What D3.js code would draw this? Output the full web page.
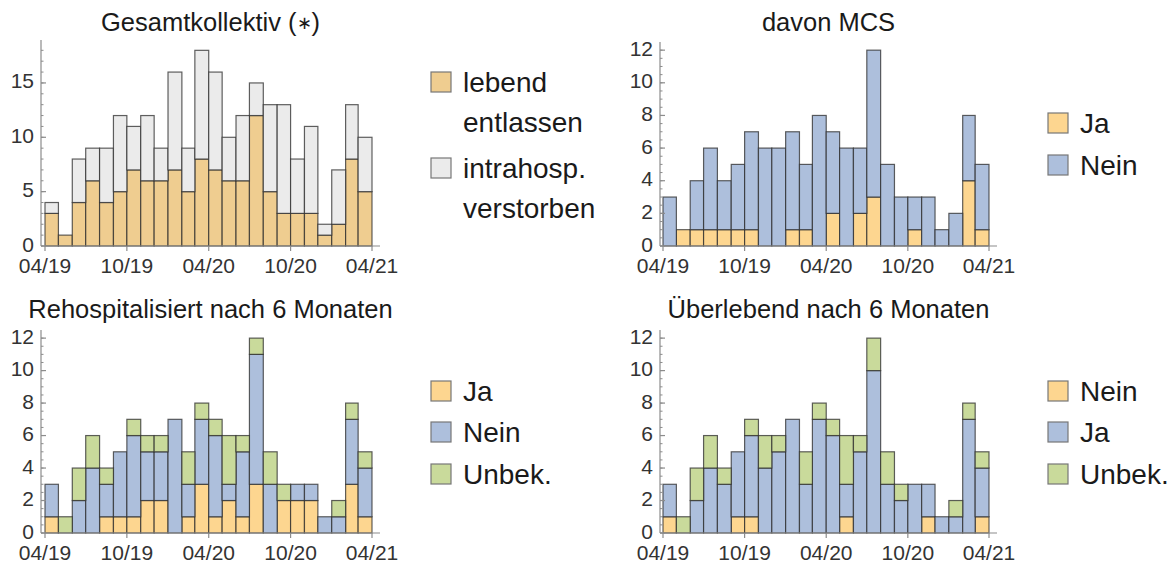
<!DOCTYPE html>
<html>
<head>
<meta charset="utf-8">
<script src="https://cdn.jsdelivr.net/npm/d3@7"></script>
<style>
  html, body { margin: 0; padding: 0; background: #fff; }
  svg { display: block; font-family: "Liberation Sans", Arial, sans-serif; }
</style>
</head>
<body>
<svg id="chart" width="1176" height="568"></svg>
<script>
// Monthly categories (April 2019 – March 2021)
const months = ["2019-04","2019-05","2019-06","2019-07","2019-08","2019-09","2019-10","2019-11","2019-12",
  "2020-01","2020-02","2020-03","2020-04","2020-05","2020-06","2020-07","2020-08","2020-09","2020-10",
  "2020-11","2020-12","2021-01","2021-02","2021-03"];
const xTickLabels = ["04/19","10/19","04/20","10/20","04/21"];

// Gesamtkollektiv
const gesamtLebend     = [3,1,4,6,4,5,7,6,6,7,5,8,7,6,6,12,5,3,3,3,1,2,8,5];
const gesamtVerstorben = [1,0,4,3,5,7,4,6,3,9,4,10,9,4,6,3,8,10,5,8,1,5,5,5];

// davon MCS
const mcsJa   = [0,1,1,1,1,1,1,0,0,1,1,0,2,0,2,3,0,0,1,0,0,0,4,1];
const mcsNein = [3,0,3,5,3,4,6,6,6,6,4,8,5,6,4,9,5,3,2,3,1,2,4,4];

// Rehospitalisiert nach 6 Monaten
const rehoJa     = [1,0,0,0,1,1,1,2,2,0,1,3,1,2,1,3,0,2,2,2,0,0,3,1];
const rehoNein   = [2,0,2,4,2,4,5,3,3,7,2,4,5,1,4,8,3,0,1,1,1,1,4,3];
const rehoUnbek  = [0,1,2,2,1,0,1,1,1,0,2,1,1,3,1,1,2,1,0,0,0,1,1,1];

// Überlebend nach 6 Monaten
const uebNein  = [1,0,0,0,0,1,1,0,0,0,0,0,0,1,0,0,0,0,0,1,0,0,0,1];
const uebJa    = [2,0,2,4,3,4,5,4,5,7,3,7,6,2,5,10,3,2,3,2,1,1,7,3];
const uebUnbek = [0,1,2,2,1,0,1,2,1,0,2,1,1,3,1,2,2,1,0,0,0,1,1,1];

const C_ORANGE_1 = "#efcd90";
const C_GREY     = "#ebebeb";
const C_ORANGE   = "#fdd690";
const C_BLUE     = "#adbfdc";
const C_GREEN    = "#c9da9b";

const parseMonth = d3.timeParse("%Y-%m");
const parseTick  = d3.timeParse("%m/%y");
const dates = months.map(parseMonth);

const svg = d3.select("#chart");

function panel(cfg) {
  const g = svg.append("g");
  const x = d3.scaleTime()
    .domain([parseTick(xTickLabels[0]), parseTick(xTickLabels[xTickLabels.length - 1])])
    .range([cfg.x0, cfg.x1]);
  const y = d3.scaleLinear().domain([0, cfg.yMax]).range([cfg.base, cfg.top]);

  // stacked bars
  const rows = dates.map((d, i) => {
    const r = { date: d };
    cfg.series.forEach(s => r[s.key] = s.values[i]);
    return r;
  });
  const stacked = d3.stack().keys(cfg.series.map(s => s.key))(rows);
  stacked.forEach((layer, li) => {
    g.append("g").selectAll("rect")
      .data(layer.filter(d => d[1] > d[0]))
      .join("rect")
      .attr("x", d => x(d.data.date))
      .attr("width", d => x(d3.timeMonth.offset(d.data.date, 1)) - x(d.data.date))
      .attr("y", d => y(d[1]))
      .attr("height", d => y(d[0]) - y(d[1]))
      .attr("fill", cfg.series[li].color)
      .attr("stroke", "#2b2b2b")
      .attr("stroke-opacity", 0.75)
      .attr("stroke-width", 1.2);
  });

  // y axis
  const axisColor = "#8c8c8c";
  g.append("line")
    .attr("x1", cfg.axisX).attr("x2", cfg.axisX)
    .attr("y1", cfg.base).attr("y2", cfg.top)
    .attr("stroke", axisColor).attr("stroke-width", 1.2);
  const minor = d3.range(0, cfg.yMax, cfg.minorStep);
  g.append("g").selectAll("line").data(minor).join("line")
    .attr("x1", cfg.axisX).attr("x2", cfg.axisX + 2.5)
    .attr("y1", d => y(d)).attr("y2", d => y(d))
    .attr("stroke", axisColor).attr("stroke-width", 1);
  const majors = d3.range(0, cfg.yMax, cfg.majorStep);
  g.append("g").selectAll("line").data(majors).join("line")
    .attr("x1", cfg.axisX).attr("x2", cfg.axisX + 5)
    .attr("y1", d => y(d)).attr("y2", d => y(d))
    .attr("stroke", axisColor).attr("stroke-width", 1.2);
  g.append("g").selectAll("text").data(majors).join("text")
    .attr("x", cfg.axisX - 7)
    .attr("y", d => y(d) - 2)
    .attr("dy", "0.36em")
    .attr("text-anchor", "end")
    .attr("font-size", 21)
    .attr("fill", "#333")
    .text(d => d);

  // x axis
  g.append("line")
    .attr("x1", cfg.axisX).attr("x2", cfg.axisEnd)
    .attr("y1", cfg.base).attr("y2", cfg.base)
    .attr("stroke", axisColor).attr("stroke-width", 1.2);
  const xt = xTickLabels.map(parseTick);
  g.append("g").selectAll("line").data(xt).join("line")
    .attr("x1", d => x(d)).attr("x2", d => x(d))
    .attr("y1", cfg.base).attr("y2", cfg.base + 5)
    .attr("stroke", axisColor).attr("stroke-width", 1.2);
  g.append("g").selectAll("text").data(xt).join("text")
    .attr("x", d => x(d))
    .attr("y", cfg.base + 27)
    .attr("text-anchor", "middle")
    .attr("font-size", 21)
    .attr("fill", "#333")
    .text(d3.timeFormat("%m/%y"));

  // title (optional smaller marker part, e.g. the footnote asterisk)
  const title = g.append("text")
    .attr("x", (cfg.axisX + cfg.axisEnd) / 2)
    .attr("y", cfg.titleY)
    .attr("text-anchor", "middle")
    .attr("font-size", 25.5)
    .attr("fill", "#1a1a1a");
  title.append("tspan").text(cfg.title);
  if (cfg.titleMark) {
    title.append("tspan").text(" (");
    title.append("tspan").attr("font-size", 18).attr("dy", -2).text(cfg.titleMark);
    title.append("tspan").attr("dy", 2).text(")");
  }

  // legend
  const lg = g.append("g");
  cfg.legend.forEach(item => {
    lg.append("rect")
      .attr("x", cfg.legendX).attr("y", item.y)
      .attr("width", 20).attr("height", 20)
      .attr("fill", item.color)
      .attr("stroke", "#777").attr("stroke-width", 1.2);
    item.lines.forEach((t, k) => {
      lg.append("text")
        .attr("x", cfg.legendX + 32)
        .attr("y", item.y + 20 + k * 40)
        .attr("font-size", 28)
        .attr("fill", "#1a1a1a")
        .text(t);
    });
  });
}

panel({
  title: "Gesamtkollektiv",
  titleMark: "\u2217",
  titleY: 31,
  axisX: 41, axisEnd: 380, x0: 45, x1: 372,
  base: 246, top: 40, yMax: 18.95, majorStep: 5, minorStep: 1,
  series: [
    { key: "lebend", values: gesamtLebend, color: C_ORANGE_1 },
    { key: "verstorben", values: gesamtVerstorben, color: C_GREY }
  ],
  legendX: 431,
  legend: [
    { y: 72,  color: C_ORANGE_1, lines: ["lebend", "entlassen"] },
    { y: 158, color: C_GREY,     lines: ["intrahosp.", "verstorben"] }
  ]
});

panel({
  title: "davon MCS",
  titleY: 31,
  axisX: 660, axisEnd: 997, x0: 663, x1: 989,
  base: 246, top: 42, yMax: 12.5, majorStep: 2, minorStep: 0.5,
  series: [
    { key: "ja", values: mcsJa, color: C_ORANGE },
    { key: "nein", values: mcsNein, color: C_BLUE }
  ],
  legendX: 1048,
  legend: [
    { y: 113, color: C_ORANGE, lines: ["Ja"] },
    { y: 155, color: C_BLUE,   lines: ["Nein"] }
  ]
});

panel({
  title: "Rehospitalisiert nach 6 Monaten",
  titleY: 318,
  axisX: 41, axisEnd: 380, x0: 45, x1: 372,
  base: 533, top: 330, yMax: 12.5, majorStep: 2, minorStep: 0.5,
  series: [
    { key: "ja", values: rehoJa, color: C_ORANGE },
    { key: "nein", values: rehoNein, color: C_BLUE },
    { key: "unbek", values: rehoUnbek, color: C_GREEN }
  ],
  legendX: 431,
  legend: [
    { y: 381, color: C_ORANGE, lines: ["Ja"] },
    { y: 422, color: C_BLUE,   lines: ["Nein"] },
    { y: 464, color: C_GREEN,  lines: ["Unbek."] }
  ]
});

panel({
  title: "\u00dcberlebend nach 6 Monaten",
  titleY: 318,
  axisX: 660, axisEnd: 997, x0: 663, x1: 989,
  base: 533, top: 330, yMax: 12.5, majorStep: 2, minorStep: 0.5,
  series: [
    { key: "nein", values: uebNein, color: C_ORANGE },
    { key: "ja", values: uebJa, color: C_BLUE },
    { key: "unbek", values: uebUnbek, color: C_GREEN }
  ],
  legendX: 1048,
  legend: [
    { y: 381, color: C_ORANGE, lines: ["Nein"] },
    { y: 422, color: C_BLUE,   lines: ["Ja"] },
    { y: 464, color: C_GREEN,  lines: ["Unbek."] }
  ]
});
</script>
</body>
</html>
